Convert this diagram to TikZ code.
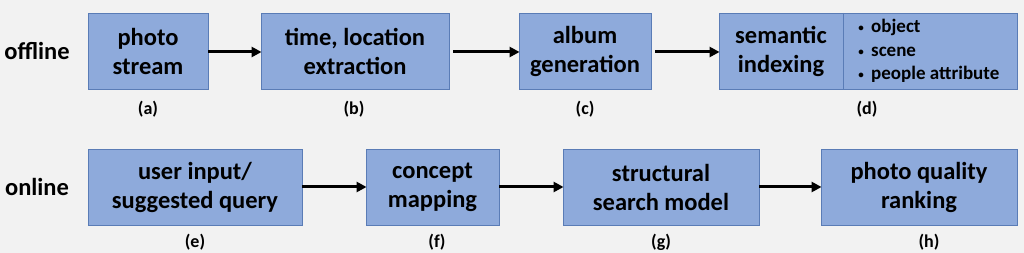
\documentclass[tikz,border=0pt]{standalone}
\usepackage{fontspec}
\setmainfont{Carlito}
\usetikzlibrary{arrows.meta}
\definecolor{bg}{HTML}{F2F2F2}
\definecolor{boxfill}{HTML}{8EAADB}
\definecolor{boxline}{HTML}{5A7CB6}
\tikzset{
  stepbox/.style={draw=boxline, line width=0.9pt, fill=boxfill, rectangle, minimum height=76pt, inner sep=0pt,
    font=\fontsize{24.5}{29}\selectfont\bfseries, align=center, text=black},
  tag/.style={font=\fontsize{18}{20}\selectfont\bfseries, inner sep=0pt},
  rowlabel/.style={font=\fontsize{24.5}{29}\selectfont\bfseries, inner sep=0pt},
  flow/.style={-{Triangle[length=10pt,width=10pt]}, line width=3pt, black, shorten >=-1pt},
}
\newcommand{\blt}{\makebox[20pt][c]{\fontsize{11}{11}\selectfont\raisebox{1pt}{•}}}
\begin{document}
\begin{tikzpicture}[x=1pt,y=-1pt]
\fill[bg] (0,0) rectangle (1024,253);
\useasboundingbox (0,0) rectangle (1024,253);
% row labels
\node[rowlabel] (off) at (37,51) {offline};
\node[rowlabel] (on) at (37,187) {online};
% offline row
\node[stepbox, minimum width=120pt] (a) at (148,51) {photo\\stream};
\node[stepbox, minimum width=188pt] (b) at (355,51) {time, location\\extraction};
\node[stepbox, minimum width=132pt] (c) at (585,51) {album\\generation};
\node[stepbox, minimum width=298pt] (d) at (868,51) {};
\coordinate (dt) at (843,13);
\coordinate (db) at (843,89);
\draw[boxline, line width=0.9pt] (dt) -- (db);
\node[font=\fontsize{24.5}{29}\selectfont\bfseries, align=center, inner sep=0pt] (dl) at (781,51) {semantic\\indexing};
\node[font=\fontsize{19}{23.5}\selectfont\bfseries, align=left, inner sep=0pt, anchor=west] (dr) at (851,51)
  {\blt object\\\blt scene\\\blt people attribute};
% offline tags
\node[tag] (ta) at (148,109) {(a)};
\node[tag] (tb) at (354,109) {(b)};
\node[tag] (tc) at (585,109) {(c)};
\node[tag] (td) at (867,109) {(d)};
% online row
\node[stepbox, minimum width=214pt] (e) at (195,187) {user input/\\suggested query};
\node[stepbox, minimum width=133pt] (f) at (432.5,187) {concept\\mapping};
\node[stepbox, minimum width=196pt] (g) at (661,187) {structural\\search model};
\node[stepbox, minimum width=196pt] (h) at (919,187) {photo quality\\ranking};
% online tags
\node[tag] (te) at (195,242) {(e)};
\node[tag] (tf) at (437,242) {(f)};
\node[tag] (tg) at (661,242) {(g)};
\node[tag] (th) at (929,242) {(h)};
% arrows
\draw[flow] ([yshift=-1pt]a.east) -- ([yshift=-1pt]b.west);
\draw[flow] ([xshift=4pt,yshift=-1pt]b.east) -- ([yshift=-1pt]c.west);
\draw[flow] ([xshift=4pt,yshift=-1pt]c.east) -- ([yshift=-1pt]d.west);
\draw[flow] (e.east) -- (f.west);
\draw[flow] (f.east) -- (g.west);
\draw[flow] (g.east) -- (h.west);
\end{tikzpicture}
\end{document}
